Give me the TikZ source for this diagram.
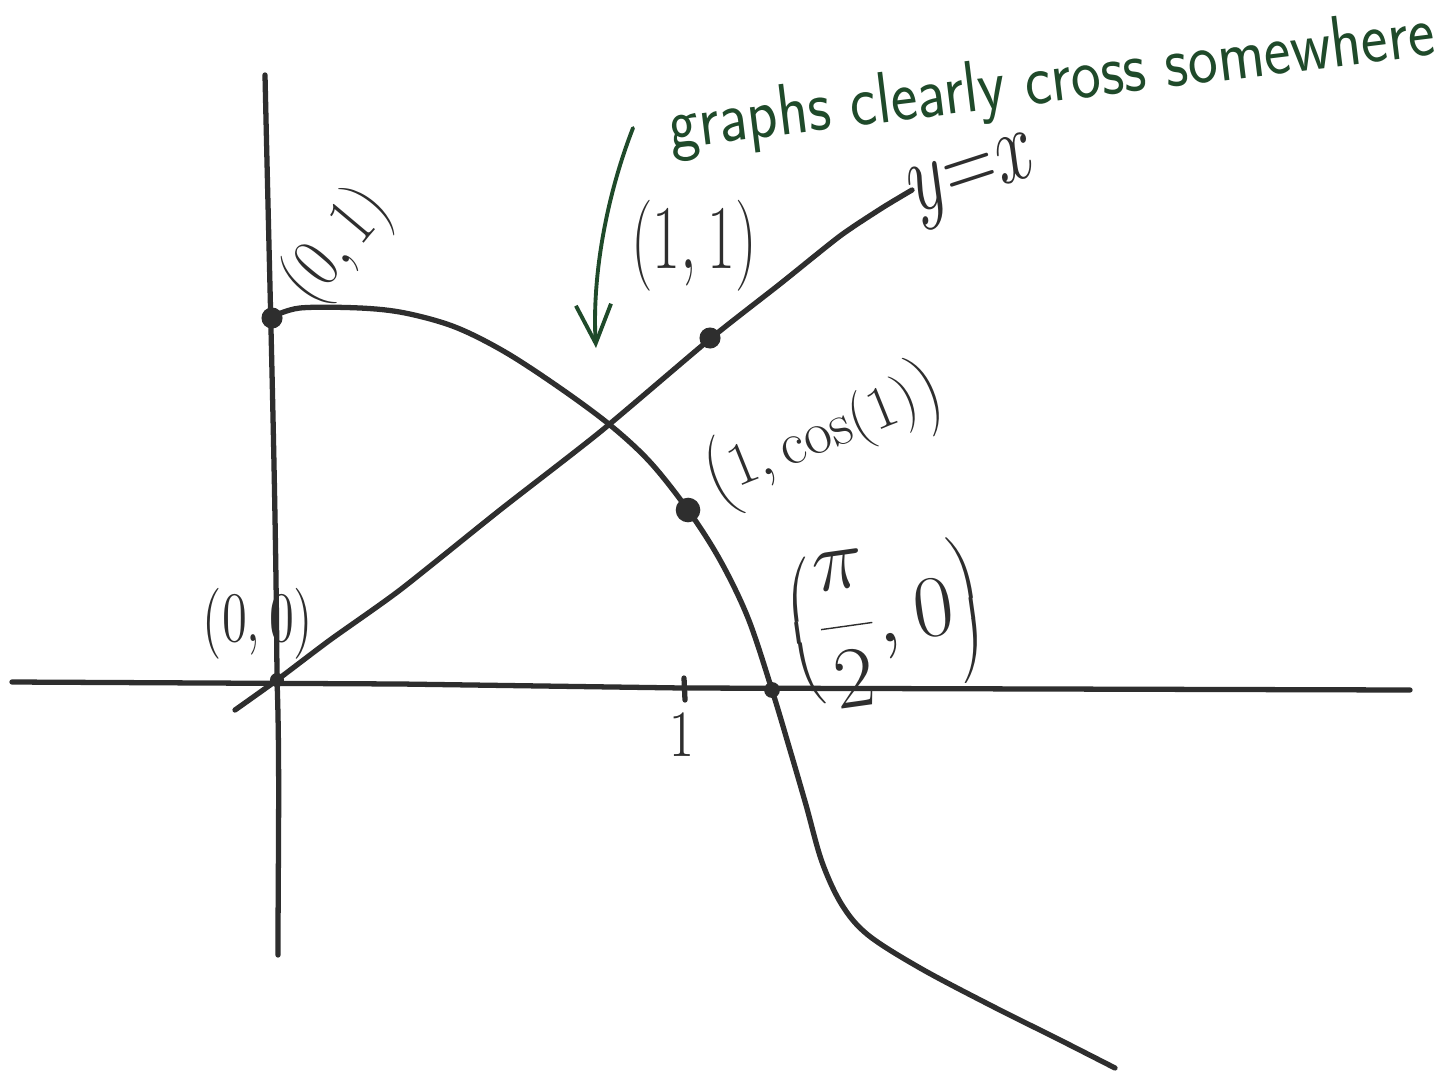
\documentclass[tikz,border=0pt]{standalone}
\usetikzlibrary{arrows.meta}
\definecolor{penink}{HTML}{2E2E2E}
\definecolor{greenink}{HTML}{1F4A2A}
\tikzset{
  pen/.style={line width=1.5pt, color=penink, line cap=round, line join=round},
  greenpen/.style={line width=1.1pt, color=greenink, line cap=round},
  dot/.style={circle, fill=penink, inner sep=0pt, minimum size=#1},
  lbl/.style={text=penink, inner sep=0pt, font=\fontsize{#1}{#1}\selectfont},
  lbl/.default=20,
  note/.style={text=greenink, inner sep=0pt, font=\sffamily\fontsize{18}{20}\selectfont}
}
\begin{document}
\begin{tikzpicture}[x=0.01cm, y=-0.01cm]
    \useasboundingbox (0,0) rectangle (1452,1073);
    \fill [white] (0,0) rectangle (1452,1073);

    \draw [pen] (265,75) .. controls (270,300) and (276,500) .. (277,680)
                .. controls (280,760) and (278,860) .. (278,955);
    \draw [pen] (12,682) -- (400,684) -- (683,688) -- (1410,690);
    \draw [pen] (684,678) -- (685,700);

    \draw [pen] plot [smooth, tension=0.55] coordinates {
        (272,317) (300,308) (360,308) (405,313) (455,327) (505,352)
        (560,388) (610,425) (650,462) (688,510) (720,560) (748,618)
        (772,690) (790,750) (806,805) (822,862) (842,905) (868,935)
        (920,968) (990,1005) (1060,1040) (1115,1068)};
    \draw [pen] plot [smooth, tension=0.4] coordinates {
        (235,710) (277,680) (330,640) (400,590) (500,510) (600,432)
        (710,339) (780,284) (840,236) (882,208) (912,190)};

    \node [dot=6pt] (p01) at (272,318) {};
    \node [dot=4pt] (p00) at (277,680) {};
    \node [dot=6pt] (p11) at (710,338) {};
    \node [dot=7pt] (p1c) at (688,510) {};
    \node [dot=4.5pt] (ppi) at (772,690) {};

    \node [lbl=17, rotate=50, yscale=1.2] (l01) at (338,246) {$(0,1)$};
    \node [lbl=15, yscale=1.4] (l00) at (258,624) {$(0,0)$};
    \node [lbl=17, yscale=1.5] (l11) at (694,246) {$(1,1)$};
    \node [lbl=19, rotate=22] (l1c) at (824,436) {$\bigg(1,\cos(1)\bigg)$};
    \node [lbl=23, rotate=8] (lpi) at (886,624) {$\left(\displaystyle\frac{\pi}{2},0\right)$};
    \node [lbl, rotate=18, yscale=1.4] (lyx) at (975,182) {$y{=}x$};
    \node [lbl=15, yscale=1.3] (lone) at (682,735) {$1$};

    \node [note, rotate=7, yscale=1.15] (crossnote) at (1052,84) {graphs clearly cross somewhere};
    \coordinate (arrowtail) at (633,128);
    \coordinate (arrowhead) at (596,348);
    \draw [greenpen, -{Straight Barb[length=11pt, width=10pt]}] (arrowtail)
        .. controls (605,200) and (592,280) .. (arrowhead);
\end{tikzpicture}
\end{document}
